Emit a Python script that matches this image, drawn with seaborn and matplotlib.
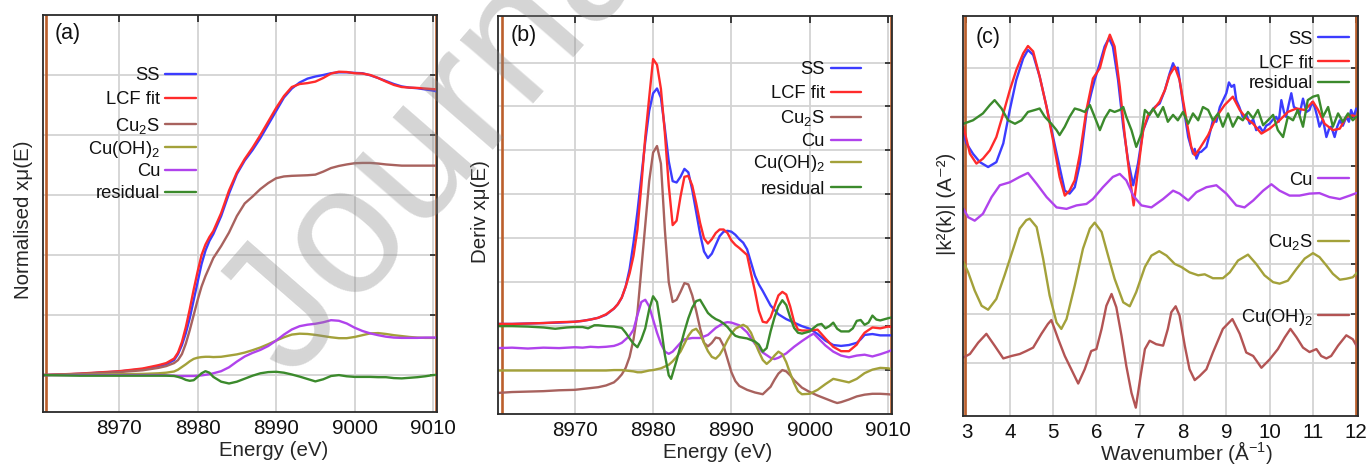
import matplotlib
matplotlib.use("Agg")
import matplotlib.pyplot as plt
from matplotlib.lines import Line2D
import seaborn as sns

# ---------------- panel (a): normalised XANES ----------------
a_energy = [8960.3, 8965, 8970, 8973, 8975, 8976, 8977, 8977.5, 8978, 8978.5, 8979, 8979.5,
            8980, 8980.5, 8981, 8981.5, 8982, 8983, 8984, 8985, 8986, 8987, 8988, 8989, 8990,
            8991, 8992, 8993, 8994, 8995, 8996, 8997, 8998, 8999, 9000, 9001, 9002, 9003, 9004,
            9005, 9006, 9007, 9008, 9009, 9010, 9010.5]
a_ss = [0.0, 0.004, 0.012, 0.02, 0.03, 0.036, 0.05, 0.07, 0.1, 0.14, 0.19, 0.25, 0.31, 0.37,
        0.415, 0.447, 0.47, 0.53, 0.605, 0.67, 0.715, 0.75, 0.79, 0.835, 0.88, 0.925, 0.955,
        0.975, 0.988, 0.995, 1.0, 1.006, 1.009, 1.009, 1.007, 1.006, 0.999, 0.99, 0.98, 0.97,
        0.962, 0.958, 0.956, 0.952, 0.948, 0.945]
a_lcf = [0.0, 0.005, 0.013, 0.022, 0.033, 0.04, 0.055, 0.075, 0.11, 0.16, 0.22, 0.285, 0.345,
         0.4, 0.435, 0.46, 0.48, 0.54, 0.615, 0.675, 0.72, 0.758, 0.8, 0.845, 0.89, 0.93, 0.96,
         0.97, 0.973, 0.978, 0.99, 1.005, 1.011, 1.01, 1.006, 1.005, 1.0, 0.99, 0.978, 0.967,
         0.96, 0.958, 0.957, 0.955, 0.953, 0.952]
a_cu2s = [0.0, 0.004, 0.01, 0.016, 0.024, 0.03, 0.04, 0.05, 0.07, 0.105, 0.15, 0.2, 0.25, 0.295,
          0.33, 0.36, 0.39, 0.43, 0.475, 0.53, 0.572, 0.595, 0.62, 0.64, 0.656, 0.662, 0.664,
          0.665, 0.666, 0.668, 0.678, 0.69, 0.697, 0.702, 0.706, 0.707, 0.707, 0.705, 0.702,
          0.7, 0.698, 0.698, 0.698, 0.698, 0.698, 0.698]
a_cuoh2 = [0.0, 0.001, 0.003, 0.004, 0.006, 0.008, 0.012, 0.018, 0.027, 0.036, 0.046, 0.054,
           0.058, 0.06, 0.061, 0.061, 0.06, 0.061, 0.065, 0.069, 0.075, 0.083, 0.092, 0.103,
           0.115, 0.126, 0.135, 0.138, 0.137, 0.134, 0.13, 0.126, 0.123, 0.123, 0.127, 0.133,
           0.139, 0.14, 0.137, 0.133, 0.13, 0.127, 0.125, 0.124, 0.124, 0.124]
a_cu = [0.0, 0.0, 0.0, 0.0, 0.0, -0.001, -0.002, -0.003, -0.003, -0.003, -0.003, -0.003, -0.002,
        -0.001, 0.001, 0.003, 0.006, 0.013, 0.026, 0.045, 0.062, 0.074, 0.084, 0.097, 0.115,
        0.135, 0.152, 0.163, 0.168, 0.171, 0.176, 0.183, 0.181, 0.172, 0.158, 0.147, 0.139,
        0.133, 0.128, 0.125, 0.124, 0.124, 0.124, 0.125, 0.125, 0.125]
a_resid = [0.0, -0.002, -0.002, -0.002, -0.002, -0.002, -0.003, -0.006, -0.01, -0.016, -0.019,
           -0.017, -0.006, 0.006, 0.013, 0.008, -0.006, -0.022, -0.028, -0.022, -0.012, -0.002,
           0.006, 0.01, 0.011, 0.008, 0.002, -0.005, -0.013, -0.021, -0.014, -0.003, 0.0,
           -0.004, -0.006, -0.006, -0.006, -0.007, -0.007, -0.01, -0.011, -0.009, -0.007,
           -0.004, 0.0, 0.001]

# ---------------- panel (b): derivative spectra (offset for clarity) ----------------
b_ss_e = [8960.2, 8962, 8964, 8966, 8968, 8970, 8971, 8972, 8973, 8974, 8975, 8975.5, 8976,
          8976.5, 8977, 8977.5, 8978, 8978.5, 8979, 8979.5, 8980, 8980.5, 8981, 8981.5, 8982,
          8982.5, 8983, 8983.5, 8984, 8984.5, 8985, 8985.5, 8986, 8986.5, 8987, 8987.5, 8988,
          8988.5, 8989, 8989.5, 8990, 8990.5, 8991, 8991.5, 8992, 8992.5, 8993, 8993.5, 8994,
          8995, 8996, 8997, 8998, 8999, 9000, 9001, 9002, 9003, 9004, 9005, 9006, 9006.5,
          9007, 9008, 9009, 9010, 9010.5]
b_ss = [2.05, 2.05, 2.06, 2.07, 2.08, 2.1, 2.12, 2.15, 2.19, 2.26, 2.4, 2.5, 2.65, 2.9, 3.3,
        3.9, 4.6, 5.4, 6.2, 6.9, 7.3, 7.41, 7.2, 6.5, 5.75, 5.3, 5.27, 5.4, 5.58, 5.5, 5.1, 4.6,
        4.1, 3.7, 3.55, 3.65, 3.85, 4.05, 4.15, 4.17, 4.15, 4.08, 3.98, 3.9, 3.75, 3.45, 3.15,
        2.95, 2.8, 2.47, 2.27, 2.16, 2.08, 2.0, 1.94, 1.82, 1.67, 1.57, 1.55, 1.57, 1.62, 1.7,
        1.8, 1.82, 1.79, 1.79, 1.79]
b_lcf_e = [8960.2, 8962, 8964, 8966, 8968, 8970, 8971, 8972, 8973, 8974, 8975, 8975.5, 8976,
           8976.5, 8977, 8977.5, 8978, 8978.5, 8979, 8979.5, 8980, 8980.5, 8981, 8981.5, 8982,
           8982.5, 8983, 8983.5, 8984, 8984.5, 8985, 8985.5, 8986, 8986.5, 8987, 8987.5, 8988,
           8988.5, 8989, 8989.5, 8990, 8990.5, 8991, 8991.5, 8992, 8992.5, 8993, 8993.5, 8994,
           8994.5, 8995, 8995.5, 8996, 8996.5, 8997, 8997.5, 8998, 8998.5, 8999, 9000, 9001,
           9002, 9003, 9004, 9005, 9006, 9006.5, 9007, 9008, 9009, 9010, 9010.5]
b_lcf = [2.05, 2.05, 2.06, 2.07, 2.09, 2.1, 2.12, 2.15, 2.19, 2.27, 2.4, 2.5, 2.65, 2.9, 3.2,
         3.6, 4.2, 5.2, 6.3, 7.2, 8.08, 7.95, 7.4, 6.4, 5.2, 4.3, 4.4, 4.95, 5.4, 5.42, 5.2,
         4.8, 4.35, 4.0, 3.88, 3.98, 4.12, 4.2, 4.2, 4.12, 3.95, 3.85, 3.78, 3.7, 3.62, 3.2,
         2.8, 2.35, 2.1, 2.08, 2.2, 2.45, 2.7, 2.78, 2.72, 2.45, 2.1, 1.92, 1.9, 1.9, 1.92,
         1.72, 1.53, 1.43, 1.43, 1.58, 1.73, 1.85, 1.97, 1.95, 1.99, 1.98]
b_cu2s_e = [8960.2, 8962, 8964, 8966, 8968, 8970, 8971, 8972, 8973, 8974, 8975, 8975.5, 8976,
            8976.5, 8977, 8977.5, 8978, 8978.5, 8979, 8979.5, 8980, 8980.5, 8981, 8981.5, 8982,
            8982.5, 8983, 8983.5, 8984, 8984.5, 8985, 8985.5, 8986, 8986.5, 8987, 8987.5, 8988,
            8988.5, 8989, 8989.5, 8990, 8990.5, 8991, 8992, 8993, 8994, 8995, 8995.5, 8996,
            8996.5, 8997, 8997.5, 8998, 8999, 9000, 9001, 9002, 9003, 9003.5, 9004, 9005, 9006,
            9007, 9008, 9009, 9010, 9010.5]
b_cu2s = [0.48, 0.5, 0.51, 0.52, 0.54, 0.55, 0.57, 0.59, 0.61, 0.65, 0.72, 0.8, 0.9, 1.05, 1.3,
          1.7, 2.3, 3.3, 4.3, 5.3, 5.95, 6.1, 5.7, 4.2, 3.0, 2.55, 2.6, 2.78, 2.98, 2.95, 2.7,
          2.35, 1.95, 1.62, 1.54, 1.62, 1.74, 1.72, 1.55, 1.25, 0.95, 0.75, 0.64, 0.55, 0.49,
          0.45, 0.62, 0.78, 0.92, 1.0, 0.97, 0.88, 0.77, 0.6, 0.5, 0.42, 0.35, 0.28, 0.25,
          0.27, 0.33, 0.4, 0.44, 0.46, 0.46, 0.45, 0.44]
b_cu_e = [8960.2, 8962, 8964, 8966, 8968, 8970, 8971, 8972, 8973, 8974, 8975, 8975.5, 8976,
          8976.5, 8977, 8977.5, 8978, 8978.5, 8979, 8979.5, 8980, 8980.5, 8981, 8981.5, 8982,
          8982.5, 8983, 8983.5, 8984, 8985, 8986, 8987, 8988, 8989, 8989.5, 8990, 8991, 8992,
          8993, 8994, 8995, 8995.5, 8996, 8997, 8998, 8999, 9000, 9000.5, 9001, 9002, 9003,
          9004, 9005, 9006, 9007, 9008, 9009, 9010, 9010.5]
b_cu = [1.5, 1.51, 1.49, 1.51, 1.5, 1.52, 1.51, 1.53, 1.52, 1.53, 1.55, 1.58, 1.62, 1.7, 1.78,
        1.92, 2.25, 2.55, 2.6, 2.45, 2.15, 1.85, 1.6, 1.42, 1.37, 1.42, 1.52, 1.62, 1.7, 1.73,
        1.73, 1.8, 1.96, 2.07, 2.09, 2.08, 2.02, 1.86, 1.6, 1.4, 1.28, 1.25, 1.28, 1.38, 1.53,
        1.66, 1.78, 1.83, 1.74, 1.56, 1.42, 1.33, 1.29, 1.33, 1.35, 1.31, 1.36, 1.42, 1.46]
b_cuoh2_e = [8960.2, 8962, 8964, 8966, 8968, 8970, 8971, 8972, 8973, 8974, 8975, 8975.5, 8976,
             8976.5, 8977, 8977.5, 8978, 8978.5, 8979, 8979.5, 8980, 8980.5, 8981, 8981.5,
             8982, 8982.5, 8983, 8983.5, 8984, 8984.5, 8985, 8985.5, 8986, 8986.5, 8987,
             8987.5, 8988, 8988.5, 8989, 8989.5, 8990, 8990.5, 8991, 8991.5, 8992, 8992.5,
             8993, 8993.5, 8994, 8994.5, 8995, 8995.5, 8996, 8996.5, 8997, 8997.5, 8998,
             8998.5, 8999, 9000, 9001, 9002, 9003, 9004, 9005, 9006, 9007, 9008, 9009, 9010,
             9010.5]
b_cuoh2 = [0.99, 0.99, 0.99, 0.99, 0.99, 0.99, 0.99, 0.99, 0.99, 0.99, 1.0, 1.0, 1.0, 0.99,
           0.98, 0.97, 0.95, 0.95, 0.97, 0.99, 1.0, 1.02, 1.04, 1.08, 1.12, 1.2, 1.3, 1.42, 1.6,
           1.78, 1.9, 1.94, 1.82, 1.62, 1.43, 1.3, 1.26, 1.35, 1.5, 1.68, 1.83, 1.94, 1.99,
           2.03, 1.98, 1.85, 1.63, 1.42, 1.23, 1.14, 1.22, 1.33, 1.42, 1.36, 1.18, 0.93, 0.7,
           0.52, 0.45, 0.46, 0.55, 0.68, 0.8, 0.76, 0.72, 0.8, 0.93, 1.01, 1.05, 1.04, 1.02]
b_resid_e = [8960.2, 8962, 8964, 8966, 8967.5, 8969, 8970, 8971, 8971.7, 8972.5, 8973, 8974,
             8975, 8976, 8976.5, 8977, 8977.5, 8978, 8978.5, 8979, 8979.5, 8980, 8980.5, 8981,
             8981.5, 8982, 8982.3, 8983, 8983.5, 8984, 8984.5, 8985, 8985.5, 8986, 8986.5,
             8987, 8987.5, 8988, 8988.5, 8989, 8989.5, 8990, 8990.5, 8991, 8992, 8993, 8993.5,
             8994, 8994.5, 8995, 8995.5, 8996, 8996.5, 8997, 8997.5, 8998, 8998.5, 8999, 9000,
             9000.5, 9001, 9001.5, 9002, 9002.5, 9003, 9003.5, 9004, 9005, 9005.5, 9006,
             9006.5, 9007, 9007.5, 9008, 9008.5, 9009, 9010, 9010.5]
b_resid = [2.0, 2.0, 1.99, 1.97, 1.94, 1.97, 1.98, 1.98, 1.95, 2.02, 2.02, 2.0, 1.99, 1.96,
           1.85, 1.72, 1.6, 1.52, 1.7, 1.95, 2.38, 2.68, 2.55, 2.0, 1.35, 0.88, 0.8, 1.22,
           1.55, 1.88, 2.18, 2.42, 2.57, 2.6, 2.45, 2.3, 2.22, 2.16, 2.12, 2.06, 1.98, 1.87,
           1.78, 1.75, 1.72, 1.65, 1.58, 1.42, 1.5, 1.88, 2.2, 2.45, 2.59, 2.48, 2.2, 1.96,
           1.85, 1.83, 1.88, 1.96, 2.03, 2.05, 1.95, 2.0, 2.08, 1.94, 1.88, 1.88, 1.95, 2.12,
           2.14, 2.03, 2.08, 2.24, 2.15, 2.13, 2.18, 2.2]

# ---------------- panel (c): k^2-weighted EXAFS (offset for clarity) ----------------
c_ss_k = [2.93, 3.0, 3.15, 3.31, 3.5, 3.69, 3.85, 4.0, 4.15, 4.31, 4.42, 4.54, 4.69, 4.85, 5.0,
          5.15, 5.27, 5.38, 5.5, 5.62, 5.77, 5.88, 5.96, 6.08, 6.19, 6.29, 6.38, 6.5, 6.62,
          6.73, 6.85, 6.96, 7.08, 7.23, 7.35, 7.46, 7.58, 7.69, 7.77, 7.82, 7.88, 8.0, 8.12,
          8.23, 8.27, 8.31, 8.37, 8.42, 8.54, 8.6, 8.69, 8.77, 8.85, 9.0, 9.06, 9.12, 9.18,
          9.23, 9.3, 9.38, 9.46, 9.54, 9.62, 9.69, 9.77, 9.85, 9.92, 10.0, 10.08, 10.15, 10.21,
          10.27, 10.33, 10.38, 10.44, 10.5, 10.56, 10.62, 10.69, 10.77, 10.85, 10.92, 10.98,
          11.04, 11.1, 11.15, 11.23, 11.31, 11.37, 11.42, 11.46, 11.5, 11.56, 11.62, 11.69,
          11.77, 11.83, 11.88, 11.94, 12.0]
c_ss = [5.66, 5.46, 5.25, 5.08, 4.98, 5.08, 5.46, 6.14, 6.75, 7.19, 7.36, 7.26, 6.82, 6.2, 5.59,
        4.98, 4.5, 4.44, 4.57, 5.05, 6.07, 6.48, 6.75, 7.09, 7.43, 7.6, 7.43, 6.75, 5.8, 5.12,
        4.61, 5.05, 5.73, 6.07, 6.2, 6.27, 6.54, 6.88, 7.09, 6.98, 7.0, 6.27, 5.59, 5.25, 5.35,
        5.15, 5.28, 5.29, 5.39, 5.6, 5.93, 5.9, 6.2, 6.48, 6.7, 6.61, 6.65, 6.34, 6.2, 6.0,
        6.05, 5.86, 5.95, 5.73, 5.8, 5.69, 5.82, 5.86, 5.95, 6.0, 5.9, 6.34, 6.1, 6.0, 6.25,
        6.48, 6.2, 6.17, 6.05, 6.37, 6.1, 6.14, 6.3, 6.2, 6.0, 5.8, 5.95, 5.59, 5.75, 5.8,
        5.7, 5.59, 5.8, 5.93, 5.82, 6.0, 5.9, 6.14, 6.0, 6.17]
c_lcf_k = [2.93, 3.08, 3.23, 3.38, 3.54, 3.69, 3.85, 4.0, 4.15, 4.31, 4.42, 4.54, 4.69, 4.85,
           5.0, 5.15, 5.27, 5.38, 5.5, 5.62, 5.77, 5.92, 6.08, 6.19, 6.31, 6.42, 6.54, 6.65,
           6.77, 6.86, 6.96, 7.08, 7.19, 7.31, 7.46, 7.58, 7.69, 7.81, 7.92, 8.08, 8.19, 8.27,
           8.38, 8.58, 8.77, 8.96, 9.15, 9.31, 9.46, 9.62, 9.81, 10.0, 10.23, 10.42, 10.62,
           10.81, 11.0, 11.12, 11.27, 11.46, 11.62, 11.77, 11.92, 12.0]
c_lcf = [5.8, 5.25, 5.05, 5.15, 5.32, 5.59, 6.07, 6.54, 6.95, 7.29, 7.44, 7.33, 6.82, 6.2, 5.52,
         4.78, 4.4, 4.5, 4.71, 5.25, 6.14, 6.78, 6.99, 7.36, 7.67, 7.43, 6.61, 5.66, 4.78, 4.2,
         4.91, 5.73, 6.03, 6.14, 6.31, 6.54, 6.85, 7.02, 6.75, 5.93, 5.39, 5.22, 5.35, 5.63,
         6.0, 6.24, 6.41, 6.14, 5.97, 5.86, 5.66, 5.76, 5.93, 6.1, 6.17, 6.14, 6.31, 6.14,
         5.86, 5.73, 5.76, 6.0, 6.03, 6.0]
c_resid_k = [2.93, 3.15, 3.38, 3.54, 3.65, 3.81, 3.96, 4.12, 4.27, 4.42, 4.58, 4.69, 4.81, 4.96,
             5.08, 5.15, 5.27, 5.38, 5.5, 5.62, 5.73, 5.85, 5.96, 6.08, 6.19, 6.31, 6.42, 6.54,
             6.62, 6.69, 6.81, 6.92, 7.04, 7.12, 7.23, 7.31, 7.42, 7.54, 7.65, 7.77, 7.88, 8.0,
             8.12, 8.23, 8.35, 8.46, 8.58, 8.69, 8.81, 8.92, 9.04, 9.15, 9.27, 9.38, 9.5, 9.62,
             9.73, 9.85, 9.96, 10.08, 10.19, 10.31, 10.42, 10.54, 10.65, 10.77, 10.88, 11.0,
             11.12, 11.23, 11.35, 11.46, 11.58, 11.69, 11.81, 11.92, 12.0]
c_resid = [5.86, 5.93, 6.07, 6.24, 6.34, 6.17, 5.93, 5.86, 5.93, 6.1, 6.14, 6.17, 6.0, 5.86,
           5.73, 5.63, 5.8, 6.0, 6.17, 6.14, 6.1, 6.24, 6.0, 5.73, 5.97, 6.14, 6.1, 6.14, 6.2,
           6.0, 5.73, 5.39, 5.66, 6.14, 6.04, 6.17, 6.0, 6.2, 5.9, 6.04, 5.93, 6.1, 5.86, 6.07,
           5.93, 6.2, 6.14, 5.93, 6.07, 5.8, 6.07, 5.8, 6.0, 5.93, 6.1, 5.97, 6.14, 5.83, 5.93,
           6.04, 5.73, 5.59, 6.0, 5.93, 6.14, 5.8, 6.34, 6.41, 6.44, 6.0, 6.2, 5.8, 6.07, 5.9,
           6.07, 5.93, 6.0]
c_cu_k = [2.93, 3.04, 3.19, 3.38, 3.58, 3.77, 4.0, 4.23, 4.42, 4.62, 4.85, 5.08, 5.31, 5.54,
          5.77, 5.92, 6.15, 6.38, 6.54, 6.69, 6.85, 7.04, 7.27, 7.54, 7.77, 7.92, 8.12, 8.31,
          8.54, 8.77, 9.0, 9.23, 9.42, 9.62, 9.85, 10.04, 10.23, 10.46, 10.69, 10.92, 11.15,
          11.38, 11.62, 11.85, 12.0]
c_cu = [4.13, 3.96, 3.89, 4.03, 4.37, 4.61, 4.67, 4.78, 4.86, 4.64, 4.37, 4.16, 4.13, 4.2,
        4.23, 4.33, 4.57, 4.78, 4.84, 4.71, 4.4, 4.2, 4.16, 4.33, 4.5, 4.44, 4.3, 4.47, 4.57,
        4.61, 4.44, 4.2, 4.16, 4.3, 4.5, 4.63, 4.5, 4.4, 4.4, 4.44, 4.45, 4.37, 4.33, 4.4, 4.45]
c_cu2s_k = [2.93, 3.04, 3.19, 3.35, 3.5, 3.69, 3.88, 4.08, 4.23, 4.38, 4.46, 4.62, 4.77, 4.92,
            5.08, 5.19, 5.31, 5.5, 5.69, 5.85, 5.96, 6.12, 6.27, 6.42, 6.62, 6.77, 6.92, 7.12,
            7.27, 7.45, 7.62, 7.81, 7.96, 8.15, 8.35, 8.5, 8.69, 8.92, 9.08, 9.27, 9.5, 9.69,
            9.88, 10.08, 10.23, 10.42, 10.62, 10.81, 11.0, 11.15, 11.31, 11.46, 11.62, 11.77,
            11.92, 12.03]
c_cu2s = [3.05, 2.84, 2.47, 2.16, 2.08, 2.3, 2.78, 3.32, 3.73, 3.9, 3.93, 3.76, 3.12, 2.37,
          1.82, 1.69, 1.89, 2.57, 3.32, 3.73, 3.85, 3.66, 3.18, 2.71, 2.23, 2.15, 2.44, 2.95,
          3.18, 3.27, 3.18, 3.01, 2.95, 2.84, 2.78, 2.8, 2.72, 2.72, 2.84, 3.08, 3.2, 3.01,
          2.78, 2.64, 2.61, 2.67, 2.91, 3.12, 3.23, 3.15, 2.98, 2.81, 2.69, 2.71, 2.74, 2.84]
c_cuoh2_k = [2.93, 3.08, 3.27, 3.46, 3.65, 3.85, 4.04, 4.23, 4.38, 4.54, 4.73, 4.88, 4.96,
             5.12, 5.27, 5.42, 5.58, 5.73, 5.88, 6.0, 6.12, 6.23, 6.35, 6.46, 6.58, 6.69, 6.81,
             6.91, 7.02, 7.12, 7.23, 7.38, 7.54, 7.65, 7.73, 7.83, 7.92, 8.04, 8.15, 8.27,
             8.38, 8.54, 8.69, 8.92, 9.14, 9.31, 9.46, 9.62, 9.81, 10.0, 10.19, 10.35, 10.48,
             10.62, 10.77, 10.92, 11.08, 11.19, 11.31, 11.42, 11.58, 11.77, 11.92, 12.03]
c_cuoh2 = [1.11, 1.18, 1.41, 1.59, 1.35, 1.09, 1.14, 1.18, 1.24, 1.31, 1.59, 1.79, 1.87, 1.48,
           1.14, 0.87, 0.58, 0.87, 1.24, 1.28, 1.69, 2.16, 2.4, 2.13, 1.55, 0.94, 0.39, 0.09,
           0.73, 1.28, 1.45, 1.38, 1.35, 1.69, 2.03, 2.15, 1.96, 1.35, 0.87, 0.65, 0.73, 0.87,
           1.21, 1.69, 1.89, 1.59, 1.21, 1.14, 0.9, 1.07, 1.28, 1.52, 1.69, 1.52, 1.31, 1.22,
           1.28, 1.14, 1.09, 1.14, 1.35, 1.56, 1.48, 1.31]

# fitting-range limits
fit_range_e = [8960.7, 9010.4]
fit_range_k = [2.97, 12.0]

energy_ticks = [8970, 8980, 8990, 9000, 9010]
k_ticks = [3, 4, 5, 6, 7, 8, 9, 10, 11, 12]

# ---------------- style ----------------
BLUE, RED, GREEN = "#3c3cff", "#ff2b2b", "#3b8a2c"
BROWN, OLIVE, PURPLE = "#a8625e", "#a3a13a", "#b043ec"
BROWN_C, RANGE = "#b35454", "#bb5f2c"
FS = 14.8

sns.set_theme(style="white")
plt.rcParams["font.family"] = ["Liberation Sans", "DejaVu Sans"]
plt.rcParams["mathtext.fontset"] = "custom"
plt.rcParams["mathtext.rm"] = "Liberation Sans"
plt.rcParams["mathtext.it"] = "Liberation Sans:italic"
plt.rcParams["mathtext.default"] = "regular"

W, H = 1367, 466
fig = plt.figure(figsize=(W / 100, H / 100), dpi=100)


def make_axes(left, top, right, bottom):
    return fig.add_axes([left / W, 1 - bottom / H, (right - left) / W, (bottom - top) / H])


def curve(ax, x, y, color, z=2):
    sns.lineplot(x=x, y=y, ax=ax, color=color, lw=1.7, estimator=None, sort=False,
                 legend=False, zorder=z)


def style_axes(ax, xlim, ylim, xticks, yticks, ranges):
    ax.set_xlim(*xlim)
    ax.set_ylim(*ylim)
    ax.set_xticks(xticks)
    ax.set_yticks(yticks)
    ax.set_yticklabels([])
    ax.grid(True, color="#d3d3d3", lw=1.3)
    ax.set_axisbelow(True)
    ax.tick_params(direction="in", length=5, width=1.2, top=True, right=True,
                   labelsize=FS, pad=5, colors="#222222", labelcolor="#111111")
    for s in ax.spines.values():
        s.set_color("#2a2a2a")
        s.set_linewidth(1.3)
    for r in ranges:
        ax.axvline(r, color=RANGE, lw=1.9, zorder=1.5)


def key(text, color, y_px, x_text, x0, x1):
    fig.text(x_text / W, 1 - (y_px + 6.5) / H, text, ha="right", va="baseline",
             fontsize=13.2, color="#111111")
    fig.add_artist(Line2D([x0 / W, x1 / W], [1 - y_px / H, 1 - y_px / H], color=color,
                          lw=1.7, transform=fig.transFigure))


# panel (a)
ax_a = make_axes(43, 15, 437, 412)
curve(ax_a, a_energy, a_ss, BLUE)
curve(ax_a, a_energy, a_lcf, RED)
curve(ax_a, a_energy, a_cu2s, BROWN)
curve(ax_a, a_energy, a_cuoh2, OLIVE)
curve(ax_a, a_energy, a_cu, PURPLE)
curve(ax_a, a_energy, a_resid, GREEN)
style_axes(ax_a, (8960.3, 9010.5), (-0.123, 1.2), energy_ticks,
           [0, 0.2, 0.4, 0.6, 0.8, 1.0], fit_range_e)
ax_a.set_xlabel("Energy (eV)", fontsize=FS)
ax_a.xaxis.set_label_coords(0.586, -0.074)
ax_a.set_ylabel("Normalised x\u03bc(E)", fontsize=FS)
ax_a.yaxis.set_label_coords(-0.026, 0.484)

# panel (b)
ax_b = make_axes(498, 16, 892, 414)
curve(ax_b, b_ss_e, b_ss, BLUE)
curve(ax_b, b_lcf_e, b_lcf, RED)
curve(ax_b, b_cu2s_e, b_cu2s, BROWN)
curve(ax_b, b_cu_e, b_cu, PURPLE)
curve(ax_b, b_cuoh2_e, b_cuoh2, OLIVE)
curve(ax_b, b_resid_e, b_resid, GREEN)
style_axes(ax_b, (8960.2, 9010.5), (0, 9.06), energy_ticks, list(range(1, 9)), fit_range_e)
ax_b.set_xlabel("Energy (eV)", fontsize=FS)
ax_b.xaxis.set_label_coords(0.558, -0.072)
ax_b.set_ylabel("Deriv x\u03bc(E)", fontsize=FS)
ax_b.yaxis.set_label_coords(-0.021, 0.508)

# panel (c)
ax_c = make_axes(963, 16, 1358, 416)
curve(ax_c, c_ss_k, c_ss, BLUE)
curve(ax_c, c_lcf_k, c_lcf, RED)
curve(ax_c, c_resid_k, c_resid, GREEN)
curve(ax_c, c_cu_k, c_cu, PURPLE)
curve(ax_c, c_cu2s_k, c_cu2s, OLIVE)
curve(ax_c, c_cuoh2_k, c_cuoh2, BROWN_C)
style_axes(ax_c, (2.92, 12.04), (-0.08, 8.05), k_ticks, list(range(1, 8)), fit_range_k)
ax_c.set_xlabel("Wavenumber (\u00c5$^{-1}$)", fontsize=FS)
ax_c.xaxis.set_label_coords(0.565, -0.058)
ax_c.set_ylabel("|k\u00b2(k)| (A\u207b\u00b2)", fontsize=FS)
ax_c.yaxis.set_label_coords(-0.018, 0.53)

# keys
for text, color, y in [("SS", BLUE, 74), ("LCF fit", RED, 98), ("Cu$_2$S", BROWN, 124),
                       ("Cu(OH)$_2$", OLIVE, 147), ("Cu", PURPLE, 170),
                       ("residual", GREEN, 192)]:
    key(text, color, y, 160, 165, 196)
for text, color, y in [("SS", BLUE, 68), ("LCF fit", RED, 92), ("Cu$_2$S", BROWN, 117),
                       ("Cu", PURPLE, 140), ("Cu(OH)$_2$", OLIVE, 162),
                       ("residual", GREEN, 187)]:
    key(text, color, y, 825, 831, 861)
for text, color, y in [("SS", BLUE, 37), ("LCF fit", RED, 61), ("residual", GREEN, 82),
                       ("Cu", PURPLE, 178), ("Cu$_2$S", OLIVE, 241),
                       ("Cu(OH)$_2$", BROWN_C, 315)]:
    key(text, color, y, 1313, 1318, 1349)

for lab, xp, yp in [("(a)", 55, 34), ("(b)", 511, 35), ("(c)", 976, 37)]:
    fig.text(xp / W, 1 - yp / H, lab, ha="left", va="center", fontsize=15.5, color="#111111")

fig.text(452 / W, 1 - 122 / H, "Journal", rotation=49, rotation_mode="anchor",
         ha="center", va="center", fontsize=132, color="#888888", alpha=0.35)

fig.savefig("out.png", dpi=100)
